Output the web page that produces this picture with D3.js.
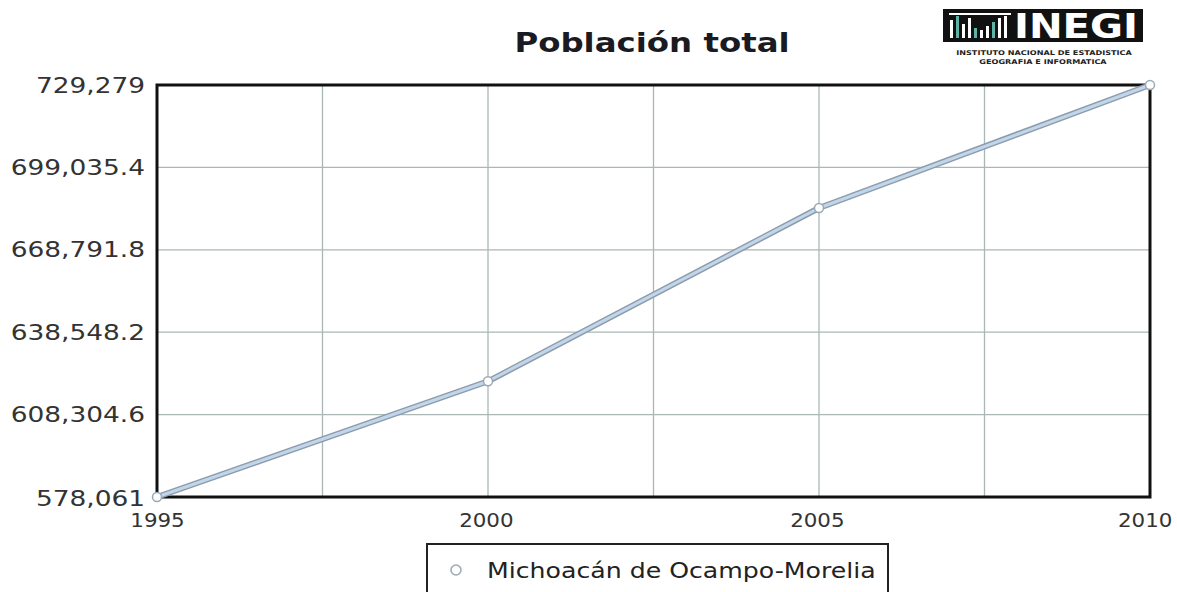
<!DOCTYPE html>
<html><head><meta charset="utf-8">
<script src="https://cdn.jsdelivr.net/npm/d3@7"></script>
<style>body{margin:0;background:#fff;}svg{display:block;font-family:"DejaVu Sans",Verdana,sans-serif;}</style>
</head><body><svg id="c" width="1177" height="592"></svg>
<script>
const years = [1995, 2000, 2005, 2010];
const population = [578061, 620532, 684145, 729279];
const yTicks = [578061, 608304.6, 638548.2, 668791.8, 699035.4, 729279];
const yTickLabels = ["578,061", "608,304.6", "638,548.2", "668,791.8", "699,035.4", "729,279"];
const xGrid = [1995, 1997.5, 2000, 2002.5, 2005, 2007.5, 2010];
const xTickLabels = ["1995", "2000", "2005", "2010"];
const seriesName = "Michoacán de Ocampo-Morelia";
const title = "Población total";

const svg = d3.select("#c");
const L = 157, R = 1150, T = 85, B = 497;
const SX = 1.2; // horizontal stretch of the original image text
const x = d3.scaleLinear().domain([1995, 2010]).range([L, R]);
const y = d3.scaleLinear().domain([578061, 729279]).range([B, T]);

// gridlines
svg.append("g").selectAll("line").data(xGrid).join("line")
  .attr("x1", d => x(d)).attr("x2", d => x(d)).attr("y1", T).attr("y2", B)
  .attr("stroke", "#a9b8b6").attr("stroke-width", 1.3);
svg.append("g").selectAll("line").data(yTicks).join("line")
  .attr("x1", L).attr("x2", R).attr("y1", d => y(d)).attr("y2", d => y(d))
  .attr("stroke", "#a9b8b6").attr("stroke-width", 1.3);

// frame
svg.append("rect").attr("x", L).attr("y", T).attr("width", R - L).attr("height", B - T)
  .attr("fill", "none").attr("stroke", "#111").attr("stroke-width", 3);

// y labels
const yAxis = d3.axisLeft(y).tickValues(yTicks).tickSize(0).tickPadding(10)
  .tickFormat((d, i) => yTickLabels[i]);
const gy = svg.append("g").attr("transform", `translate(${L},0)`).call(yAxis);
gy.select(".domain").remove();
gy.selectAll("text").attr("font-size", 22).attr("fill", "#333")
  .attr("font-family", "DejaVu Sans, Verdana, sans-serif").attr("transform", `scale(${SX},1)`);
gy.selectAll(".tick").filter(d => d === 578061).select("text").attr("dy", "0.4em");

// x labels
const xAxis = d3.axisBottom(x).tickValues(years).tickSize(0).tickPadding(16)
  .tickFormat((d, i) => xTickLabels[i]);
const gx = svg.append("g").attr("transform", `translate(0,${B})`).call(xAxis);
gx.select(".domain").remove();
gx.selectAll("text").attr("font-size", 20).attr("fill", "#333")
  .attr("font-family", "DejaVu Sans, Verdana, sans-serif").attr("transform", "scale(1.07,1)");
gx.selectAll(".tick").filter(d => d === 2010).select("text").attr("dx", -5);
gx.selectAll(".tick").filter(d => d === 2000 || d === 2005).select("text").attr("dx", -2);

// line
const pts = years.map((yr, i) => [yr, population[i]]);
const line = d3.line().x(d => x(d[0])).y(d => y(d[1]));
svg.append("path").datum(pts).attr("d", line).attr("fill", "none")
  .attr("stroke", "#8d9cad").attr("stroke-width", 6).attr("stroke-linejoin", "round");
svg.append("path").datum(pts).attr("d", line).attr("fill", "none")
  .attr("stroke", "#c2d6ea").attr("stroke-width", 3).attr("stroke-linejoin", "round");
svg.append("g").selectAll("circle").data(pts).join("circle")
  .attr("cx", d => x(d[0])).attr("cy", d => y(d[1])).attr("r", 4.5)
  .attr("fill", "#fff").attr("stroke", "#9aa8b4").attr("stroke-width", 1.5);

// title
svg.append("text").attr("transform", `translate(652,52) scale(${SX},1)`).attr("text-anchor", "middle")
  .attr("font-size", 27).attr("font-weight", "bold").attr("fill", "#1a1a22").text(title);

// logo
const lg = svg.append("g");
lg.append("rect").attr("x", 943).attr("y", 9).attr("width", 200).attr("height", 33).attr("fill", "#111");
const barsH = [18, 22, 14, 20, 10, 8, 12, 16, 20, 22];
lg.append("g").selectAll("rect").data(barsH).join("rect")
  .attr("x", (d, i) => 950 + i * 6).attr("y", d => 38 - d).attr("width", 3).attr("height", d => d)
  .attr("fill", (d, i) => (i % 3 === 1 ? "#5fb3a6" : "#fff"));
lg.append("rect").attr("x", 949).attr("y", 13).attr("width", 62).attr("height", 2).attr("fill", "#fff");
lg.append("text").attr("transform", "translate(1076,38) scale(1.22,1)").attr("text-anchor", "middle").attr("font-size", 33)
  .attr("font-weight", "bold").attr("fill", "#fff").text("INEGI");
lg.append("text").attr("transform", "translate(1044,55) scale(1.25,1)").attr("text-anchor", "middle").attr("font-size", 6.5)
  .attr("font-weight", "bold").attr("fill", "#222").text("INSTITUTO NACIONAL DE ESTADISTICA");
lg.append("text").attr("transform", "translate(1043,64) scale(1.25,1)").attr("text-anchor", "middle").attr("font-size", 6.5)
  .attr("font-weight", "bold").attr("fill", "#222").text("GEOGRAFIA E INFORMATICA");

// legend
const leg = svg.append("g");
leg.append("rect").attr("x", 427).attr("y", 544).attr("width", 461).attr("height", 60)
  .attr("fill", "#fff").attr("stroke", "#222").attr("stroke-width", 2);
leg.append("circle").attr("cx", 456).attr("cy", 570).attr("r", 5).attr("fill", "#fff")
  .attr("stroke", "#9aa8b4").attr("stroke-width", 1.5);
leg.append("text").attr("transform", `translate(487,578) scale(${SX},1)`).attr("font-size", 21)
  .attr("fill", "#222").text(seriesName);
</script></body></html>
